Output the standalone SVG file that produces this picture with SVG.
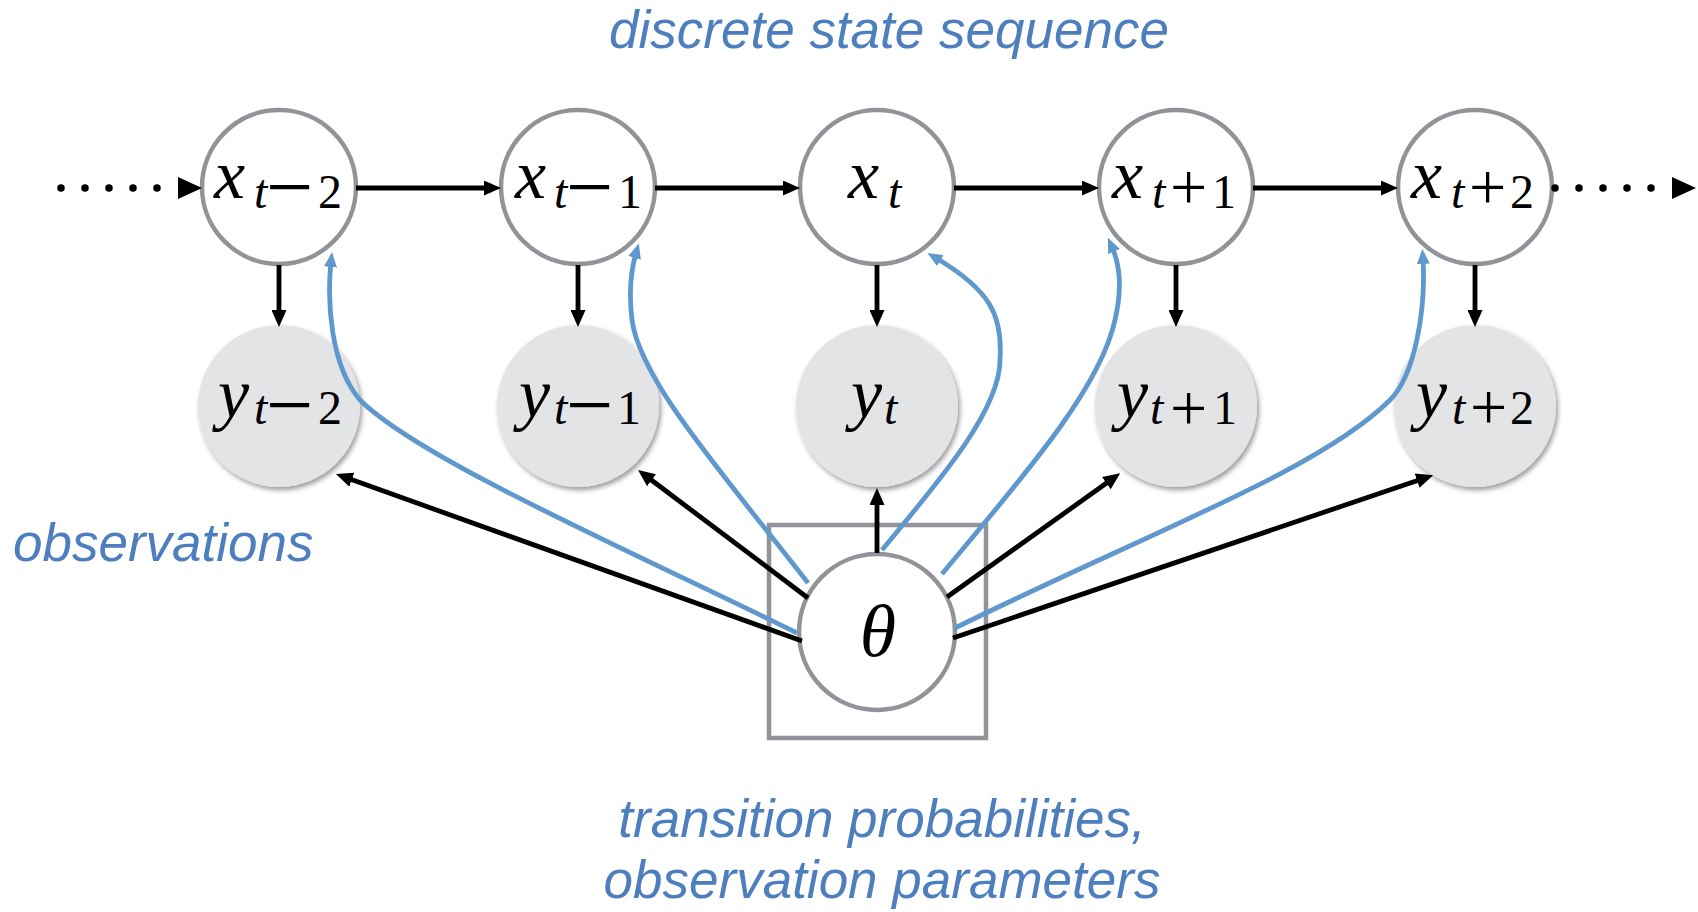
<svg xmlns="http://www.w3.org/2000/svg" width="1698" height="912" viewBox="0 0 1698 912">
  <style>
    .state { fill: #ffffff; stroke: #909398; stroke-width: 4.5; }
    .obs { fill: #e3e4e6; stroke: none; filter: url(#shadow); }
    .plate { fill: none; stroke: #909398; stroke-width: 4.5; }
    .edge { fill: none; stroke: #000000; stroke-width: 4.8; marker-end: url(#headBlack); }
    .param { fill: none; stroke: #5f98cc; stroke-width: 4.8; marker-end: url(#headBlue); }
    .dots { fill: none; stroke: #000000; stroke-width: 7.5; stroke-linecap: round; stroke-dasharray: 0 24; marker-end: url(#headBig); }
    .lbl { font-family: "Liberation Serif", "Times New Roman", serif; fill: #000000; }
    .mi { font-style: italic; font-size: 70px; }
    .si { font-style: italic; font-size: 48px; }
    .sn { font-size: 48px; }
    .mop { font-size: 84px; }
    .pop { font-size: 66px; }
    .note { font-family: "Liberation Sans", Arial, sans-serif; font-style: italic; font-size: 53px; fill: #4d7ebd; }
  </style>
  <defs>
    <filter id="shadow" x="-20%" y="-20%" width="140%" height="140%">
      <feDropShadow dx="2" dy="3" stdDeviation="2.5" flood-color="#000000" flood-opacity="0.4"/>
    </filter>
    <marker id="headBlack" markerUnits="userSpaceOnUse" markerWidth="17" markerHeight="15" refX="2" refY="7.5" orient="auto">
      <path d="M0,0 L17,7.5 L0,15 Z" fill="#000000"/>
    </marker>
    <marker id="headBlue" markerUnits="userSpaceOnUse" markerWidth="15" markerHeight="13" refX="5" refY="6.5" orient="auto">
      <path d="M0,0 L15,6.5 L0,13 Z" fill="#5f98cc"/>
    </marker>
    <marker id="headBig" markerUnits="userSpaceOnUse" markerWidth="24" markerHeight="22" refX="3" refY="11" orient="auto">
      <path d="M0,0 L24,11 L0,22 Z" fill="#000000"/>
    </marker>
  </defs>

  <!-- captions -->
  <text class="note" x="889" y="48" text-anchor="middle">discrete state sequence</text>
  <text class="note" x="13" y="561">observations</text>
  <text class="note" x="882" y="837" text-anchor="middle">transition probabilities,</text>
  <text class="note" x="882" y="898" text-anchor="middle">observation parameters</text>

  <!-- hidden state chain -->
  <g id="x_tm2">
    <circle class="state" cx="279" cy="187" r="77"/>
    <text class="lbl"><tspan class="mi" x="214" y="198">x</tspan><tspan class="si" x="254" y="208">t</tspan><tspan class="mop" x="266" y="215">−</tspan><tspan class="sn" x="318" y="208">2</tspan></text>
  </g>
  <g id="x_tm1">
    <circle class="state" cx="578" cy="187" r="77"/>
    <text class="lbl"><tspan class="mi" x="515" y="198">x</tspan><tspan class="si" x="554" y="208">t</tspan><tspan class="mop" x="566" y="215">−</tspan><tspan class="sn" x="618" y="208">1</tspan></text>
  </g>
  <g id="x_t">
    <circle class="state" cx="877" cy="187" r="77"/>
    <text class="lbl"><tspan class="mi" x="848" y="198">x</tspan><tspan class="si" x="888" y="208">t</tspan></text>
  </g>
  <g id="x_tp1">
    <circle class="state" cx="1176" cy="187" r="77"/>
    <text class="lbl"><tspan class="mi" x="1112" y="198">x</tspan><tspan class="si" x="1152" y="208">t</tspan><tspan class="pop" x="1170" y="209">+</tspan><tspan class="sn" x="1212" y="208">1</tspan></text>
  </g>
  <g id="x_tp2">
    <circle class="state" cx="1475" cy="187" r="77"/>
    <text class="lbl"><tspan class="mi" x="1411" y="198">x</tspan><tspan class="si" x="1451" y="208">t</tspan><tspan class="pop" x="1469" y="209">+</tspan><tspan class="sn" x="1510" y="208">2</tspan></text>
  </g>

  <!-- observed nodes -->
  <g id="y_tm2">
    <circle class="obs" cx="279" cy="406" r="81"/>
    <text class="lbl"><tspan class="mi" x="218" y="417">y</tspan><tspan class="si" x="254" y="424">t</tspan><tspan class="mop" x="266" y="433">−</tspan><tspan class="sn" x="318" y="424">2</tspan></text>
  </g>
  <g id="y_tm1">
    <circle class="obs" cx="578" cy="406" r="81"/>
    <text class="lbl"><tspan class="mi" x="519" y="417">y</tspan><tspan class="si" x="554" y="424">t</tspan><tspan class="mop" x="566" y="433">−</tspan><tspan class="sn" x="617" y="424">1</tspan></text>
  </g>
  <g id="y_t">
    <circle class="obs" cx="877" cy="406" r="81"/>
    <text class="lbl"><tspan class="mi" x="851" y="417">y</tspan><tspan class="si" x="884" y="424">t</tspan></text>
  </g>
  <g id="y_tp1">
    <circle class="obs" cx="1176" cy="406" r="81"/>
    <text class="lbl"><tspan class="mi" x="1117" y="417">y</tspan><tspan class="si" x="1150" y="424">t</tspan><tspan class="pop" x="1170" y="430">+</tspan><tspan class="sn" x="1213" y="424">1</tspan></text>
  </g>
  <g id="y_tp2">
    <circle class="obs" cx="1475" cy="406" r="81"/>
    <text class="lbl"><tspan class="mi" x="1416" y="417">y</tspan><tspan class="si" x="1452" y="424">t</tspan><tspan class="pop" x="1470" y="429">+</tspan><tspan class="sn" x="1510" y="424">2</tspan></text>
  </g>

  <!-- shared parameters -->
  <g id="theta">
    <rect class="plate" x="769" y="525" width="217" height="213"/>
    <circle class="state" cx="877" cy="632" r="78"/>
    <text class="lbl mi" x="878" y="656" text-anchor="middle" style="font-size:74px">θ</text>
  </g>

  <g id="connectors">
    <!-- chain continuation -->
    <path class="dots" d="M61,188 L181,188"/>
    <path class="dots" d="M1555,188 L1675,188"/>
    <!-- transitions -->
    <path class="edge" d="M356,188 L486,188"/>
    <path class="edge" d="M655,188 L785,188"/>
    <path class="edge" d="M954,188 L1084,188"/>
    <path class="edge" d="M1253,188 L1383,188"/>
    <!-- emissions -->
    <path class="edge" d="M279,265 L279,312"/>
    <path class="edge" d="M578,265 L578,312"/>
    <path class="edge" d="M877,265 L877,312"/>
    <path class="edge" d="M1176,265 L1176,312"/>
    <path class="edge" d="M1475,265 L1475,312"/>
    <!-- parameters to observations -->
    <path class="edge" d="M802,641 L350,479"/>
    <path class="edge" d="M808,598 L650,479"/>
    <path class="edge" d="M877,553 L877,503"/>
    <path class="edge" d="M947,597 L1108,482"/>
    <path class="edge" d="M953,638 L1419,480"/>
    <!-- parameters to transitions -->
    <path class="param" d="M797,633 C640,555 420,460 360,400 C330,365 327,300 331,262"/>
    <path class="param" d="M808,583 C720,470 640,380 632,320 C629,295 631,270 636,253"/>
    <path class="param" d="M882,550 C940,480 1000,410 1000,360 C1003,315 990,290 936,258"/>
    <path class="param" d="M942,574 C1020,480 1100,390 1115,320 C1122,290 1120,265 1112,247"/>
    <path class="param" d="M955,628 C1150,532 1320,470 1390,400 C1415,375 1426,310 1423,259"/>
  </g>
</svg>
